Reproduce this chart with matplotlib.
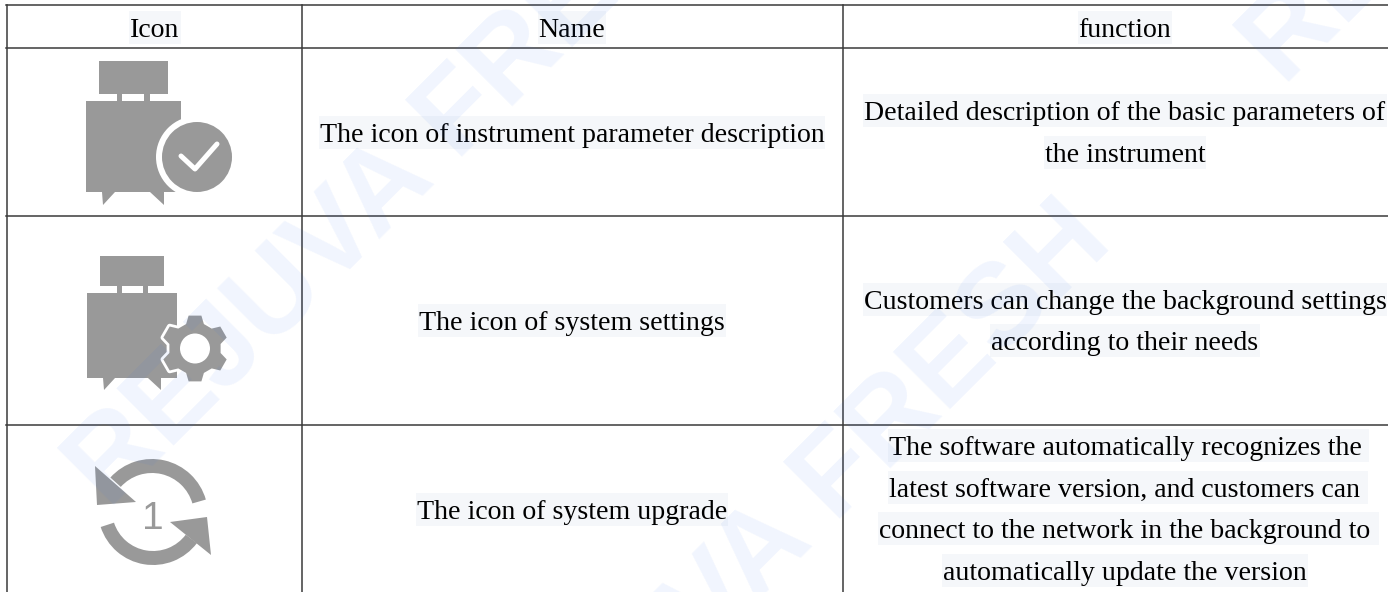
import matplotlib
matplotlib.use('Agg')
import matplotlib.pyplot as plt
import numpy as np
from matplotlib.patches import Circle, Polygon, Rectangle, Wedge

headers = ['Icon', 'Name', 'function']
names = ['The icon of instrument parameter description',
         'The icon of system settings',
         'The icon of system upgrade']
functions = [['Detailed description of the basic parameters of', 'the instrument'],
             ['Customers can change the background settings', 'according to their needs'],
             ['The software automatically recognizes the',
              'latest software version, and customers can',
              'connect to the network in the background to',
              'automatically update the version']]
watermark = 'REJUVA FRESH'

col_x = [7, 302, 843]
col_mid = [155, 572, 1125]
row_y = [5, 48, 215.5, 425]
header_base = 37
name_base = [142, 330, 519]
func_base = [[120, 162], [309, 350], [455, 497, 538, 580]]
# some lines carry a trailing space in the source, its highlight runs on
func_tail = [[0, 0], [0, 0], [7, 7, 7, 0]]

GREY = '#999999'
LINE = '#3a3a3a'
HILITE = '#f5f7fa'

plt.rcParams['font.family'] = ['Liberation Serif']

fig = plt.figure(figsize=(13.88, 5.92), dpi=100)
ax = fig.add_axes([0, 0, 1, 1])
ax.set_xlim(0, 1388)
ax.set_ylim(592, 0)
ax.axis('off')


def put_text(x, base, s, tail=0):
    t = ax.text(x, base, s, fontsize=20.1, ha='center', va='baseline',
                color='black', zorder=4)
    bb = t.get_window_extent(fig.canvas.get_renderer())
    ax.add_patch(Rectangle((bb.x0 - 1, base - 26), bb.width + 2 + tail, 33,
                           fc=HILITE, ec='none', zorder=3))


def bottle(top, conn, body, tails):
    ax.add_patch(Rectangle((top[0], top[1]), top[2] - top[0], top[3] - top[1],
                           fc=GREY, ec='none', zorder=2))
    for x0, x1 in conn:
        ax.add_patch(Rectangle((x0, top[3]), x1 - x0, body[1] - top[3],
                               fc=GREY, ec='none', zorder=2))
    ax.add_patch(Rectangle((body[0], body[1]), body[2] - body[0], body[3] - body[1],
                           fc=GREY, ec='none', zorder=2))
    for tri in tails:
        ax.add_patch(Polygon(tri, fc=GREY, ec='none', zorder=2))


# table lines
for y in row_y:
    ax.plot([col_x[0] - 1, 1388], [y, y], color=LINE, lw=1.1, zorder=5)
for x in col_x:
    ax.plot([x, x], [row_y[0], 592], color=LINE, lw=1.1, zorder=5)

# text
for x, h in zip(col_mid, headers):
    put_text(x, header_base, h)
for b, n in zip(name_base, names):
    put_text(col_mid[1], b, n)
for bases, lines, tails in zip(func_base, functions, func_tail):
    for b, s, tl in zip(bases, lines, tails):
        put_text(col_mid[2], b, s, tl)

# icon 1
bottle((99, 61, 168, 94), [(117, 122), (144, 150)], (86, 101, 181, 192),
       [[(102, 192), (103, 205), (115, 192)], [(150, 192), (164, 205), (164, 192)]])
ax.add_patch(Circle((197, 157), 41, fc='white', ec='none', zorder=2))
ax.add_patch(Circle((197, 157), 35, fc=GREY, ec='none', zorder=2))
ax.plot([181, 195, 217], [156, 169, 144], color='white', lw=3.6,
        solid_capstyle='round', solid_joinstyle='round', zorder=2)

# icon 2
bottle((100, 256, 164, 286), [(117, 122), (143, 148)], (87, 293, 177, 378),
       [[(103, 378), (104, 390), (115, 378)], [(148, 378), (161, 390), (161, 378)]])
gear_cx, gear_cy = 195, 348.5
ang = []
rad = []
for k in range(6):
    a = 90 + 60 * k
    ang += [a - 20, a - 11, a + 11, a + 20]
    rad += [26, 33.5, 33.5, 26]
ang = np.radians(ang)
rad = np.array(rad)
gear = np.column_stack([gear_cx + rad * np.cos(ang), gear_cy + rad * np.sin(ang)])
ax.add_patch(Polygon(gear, fc=GREY, ec='white', lw=4, joinstyle='round', zorder=2))
ax.add_patch(Polygon(gear, fc=GREY, ec='none', zorder=2))
ax.add_patch(Circle((gear_cx, gear_cy), 15, fc='white', ec='none', zorder=2))

# icon 3
ax.add_patch(Wedge((152, 515), 56, 222, 344, width=14, fc=GREY, ec='none', zorder=2))
ax.add_patch(Wedge((153, 510), 55, 37, 162, width=14, fc=GREY, ec='none', zorder=2))
ax.add_patch(Polygon([(95, 466), (97, 505), (136, 502)], fc=GREY, ec='none', zorder=2))
ax.add_patch(Polygon([(170, 522), (207, 517), (211, 555)], fc=GREY, ec='none', zorder=2))
ax.text(153, 529, '1', fontsize=28, family='Liberation Sans', color=GREY,
        ha='center', va='baseline', zorder=2)

# watermark
for x, y in [(401, 175), (779, 537), (1576, -248)]:
    ax.text(x, y, watermark, fontsize=84, family='Liberation Sans', weight='bold',
            color='#3373f2', alpha=0.07, rotation=45, rotation_mode='anchor',
            ha='center', va='center', zorder=6, clip_on=True)

fig.savefig('out.png', dpi=100)
